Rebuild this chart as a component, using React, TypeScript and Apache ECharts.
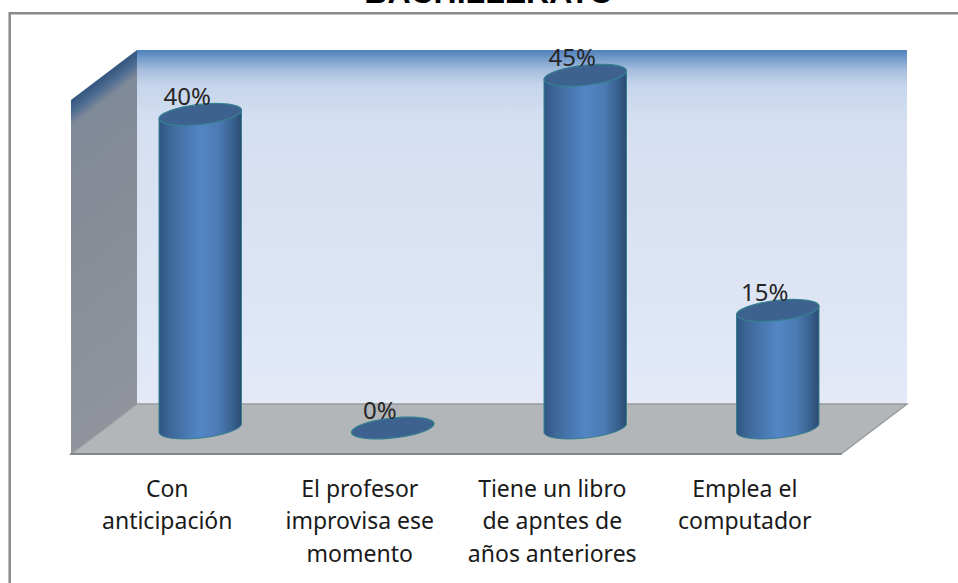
import React, { useEffect, useRef } from "react";
import * as echarts from "echarts";

const titleText = "BACHILLERATO";
const categories = [
  "Con\nanticipación",
  "El profesor\nimprovisa ese\nmomento",
  "Tiene un libro\nde apntes de\naños anteriores",
  "Emplea el\ncomputador",
];
const percentages = [40, 0, 45, 15];

const RX = 41.5;
const RY = 10;
const TILT = (-6.3 * Math.PI) / 180;

function ellipsePoint(cx: number, cy: number, t: number): number[] {
  const ex = RX * Math.cos(t);
  const ey = RY * Math.sin(t);
  return [cx + ex * Math.cos(TILT) - ey * Math.sin(TILT), cy + ex * Math.sin(TILT) + ey * Math.cos(TILT)];
}

function arcPoints(cx: number, cy: number, from: number, to: number): number[][] {
  const pts: number[][] = [];
  for (let i = 0; i <= 48; i++) pts.push(ellipsePoint(cx, cy, from + ((to - from) * i) / 48));
  return pts;
}

function renderCylinder(_: any, api: any) {
  const value = api.value(1);
  const [cx, topY] = api.coord([api.value(0), value]);
  const [, baseY] = api.coord([api.value(0), 0]);
  const children: any[] = [];
  if (value > 0) {
    const bottom = arcPoints(cx, baseY, Math.PI, 0);
    const leftTop = ellipsePoint(cx, topY, Math.PI);
    const rightTop = ellipsePoint(cx, topY, 0);
    children.push({
      type: "polygon",
      shape: { points: [leftTop, ...bottom, rightTop] },
      style: {
        fill: new echarts.graphic.LinearGradient(0, 0, 1, 0, [
          { offset: 0, color: "#2f5583" },
          { offset: 0.14, color: "#3e6899" },
          { offset: 0.5, color: "#5386c6" },
          { offset: 0.72, color: "#4c7bb4" },
          { offset: 0.9, color: "#38608e" },
          { offset: 1, color: "#2b4a72" },
        ]),
        stroke: "#35808f",
        lineWidth: 1,
      },
    });
  }
  children.push({
    type: "polygon",
    shape: { points: arcPoints(cx, topY, 0, Math.PI * 2) },
    style: { fill: "#3d628f", stroke: "#35808f", lineWidth: 1.2 },
  });
  children.push({
    type: "text",
    style: {
      x: cx - 13,
      y: topY - 7,
      text: `${value}%`,
      fill: "#262626",
      font: '24px "Noto Sans"',
      align: "center",
      verticalAlign: "bottom",
    },
  });
  return { type: "group", children };
}

export default function App() {
  const ref = useRef<HTMLDivElement>(null);
  useEffect(() => {
    const chart = echarts.init(ref.current!, null, { renderer: "svg" });
    chart.setOption({
      animation: false,
      backgroundColor: "#ffffff",
      title: {
        text: titleText,
        left: 484,
        top: -29,
        textAlign: "center",
        textStyle: { fontFamily: "Liberation Sans", fontWeight: "bold", fontSize: 32, color: "#000000" },
      },
      grid: [
        { left: 71, width: 770, top: 36, height: 418 },
        { left: 104, width: 770, top: 36, height: 392 },
      ],
      xAxis: [
        {
          type: "category",
          gridIndex: 0,
          data: categories,
          axisLine: { show: true, lineStyle: { color: "#84878a", width: 2 } },
          axisTick: { show: false },
          axisLabel: {
            interval: 0,
            margin: 18,
            fontFamily: "Noto Sans",
            fontSize: 23,
            lineHeight: 32.3,
            color: "#1a1a1a",
            align: "center",
          },
        },
        {
          type: "category",
          gridIndex: 1,
          data: categories,
          axisLine: { show: false },
          axisTick: { show: false },
          axisLabel: { show: false },
        },
      ],
      yAxis: [
        { type: "value", gridIndex: 0, min: 0, max: 50, show: false },
        { type: "value", gridIndex: 1, min: 0, max: 50, show: false },
      ],
      series: [
        {
          type: "custom",
          xAxisIndex: 1,
          yAxisIndex: 1,
          clip: false,
          z: 5,
          data: percentages.map((v, i) => [i, v]),
          encode: { x: 0, y: 1 },
          renderItem: renderCylinder,
        },
      ],
      graphic: [
        {
          type: "rect",
          z: -10,
          shape: { x: 9.7, y: 13.2, width: 1000, height: 620 },
          style: { fill: "#ffffff", stroke: "#8a8a8a", lineWidth: 2.5 },
        },
        {
          type: "rect",
          z: -9,
          shape: { x: 137, y: 50, width: 770, height: 354 },
          style: {
            fill: new echarts.graphic.LinearGradient(0, 0, 0, 1, [
              { offset: 0, color: "#4f81bd" },
              { offset: 0.055, color: "#a4bcdc" },
              { offset: 0.1, color: "#c6d5eb" },
              { offset: 0.2, color: "#d4dff1" },
              { offset: 1, color: "#e3e9f7" },
            ]),
          },
        },
        {
          type: "polygon",
          z: -8,
          shape: { points: [[71, 100], [137, 50], [137, 404], [71, 454]] },
          style: {
            fill: new echarts.graphic.LinearGradient(
              104, 75, 354, 405,
              [
                { offset: 0, color: "#33557f" },
                { offset: 0.025, color: "#4f6d92" },
                { offset: 0.05, color: "#7f8a99" },
                { offset: 0.2, color: "#858b96" },
                { offset: 1, color: "#97999f" },
              ],
              true
            ),
          },
        },
        {
          type: "polygon",
          z: -7,
          shape: { points: [[71, 454], [137, 404], [907, 404], [841, 454]] },
          style: { fill: "#b2b6b9", stroke: "#999c9f", lineWidth: 1.5 },
        },
      ],
    });
    return () => chart.dispose();
  }, []);
  return <div ref={ref} style={{ position: "absolute", left: 0, top: 0, width: 958, height: 583 }} />;
}
